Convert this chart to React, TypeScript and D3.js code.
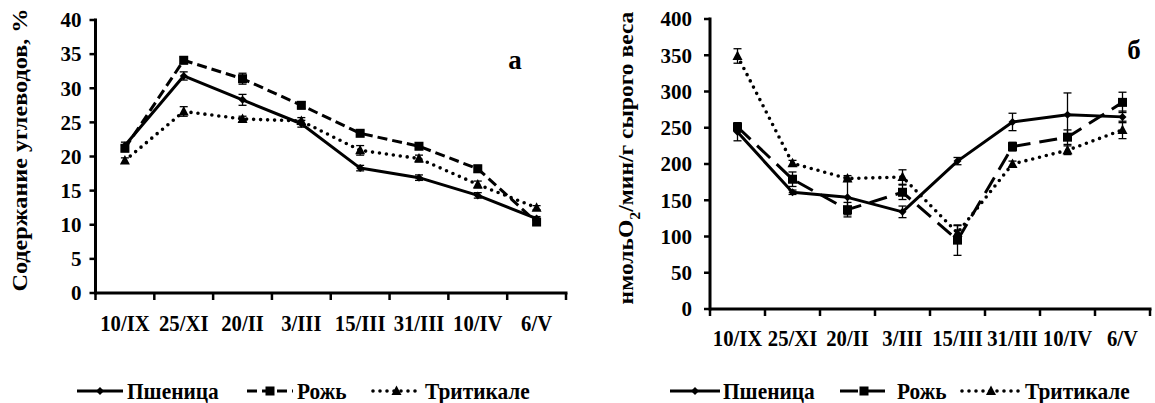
import React from 'react';
import * as d3 from 'd3';

const dates = ['10/IX', '25/XI', '20/II', '3/III', '15/III', '31/III', '10/IV', '6/V'];
const seriesNames = ['Пшеница', 'Рожь', 'Тритикале'];

// Panel а: carbohydrate content, %
const carbWheat = [21.6, 31.8, 28.3, 24.8, 18.3, 16.9, 14.3, 10.9];
const carbWheatErr = [0.5, 0.6, 0.8, 0.5, 0.4, 0.4, 0.4, 0.3];
const carbRye = [21.2, 34.1, 31.4, 27.5, 23.4, 21.5, 18.2, 10.4];
const carbRyeErr = [0.4, 0.5, 0.8, 0.5, 0.4, 0.4, 0.5, 0.4];
const carbTrit = [19.4, 26.6, 25.5, 25.2, 20.9, 19.7, 15.9, 12.5];
const carbTritErr = [0.4, 0.7, 0.4, 0.5, 0.7, 0.5, 0.5, 0.3];
const carbTicks = [0, 5, 10, 15, 20, 25, 30, 35, 40];

// Panel б: respiration, nmol O2/min/g fresh weight
const respWheat = [244, 161, 154, 134, 204, 258, 268, 265];
const respWheatErr = [12, 3, 24, 8, 5, 12, 30, 8];
const respRye = [251, 179, 137, 161, 95, 224, 237, 285];
const respRyeErr = [6, 10, 10, 10, 21, 6, 10, 14];
const respTrit = [349, 201, 180, 182, 105, 200, 219, 247];
const respTritErr = [10, 4, 4, 10, 10, 4, 6, 12];
const respTicks = [0, 50, 100, 150, 200, 250, 300, 350, 400];

const FONT = '"Liberation Serif", "Times New Roman", serif';

type Series = { values: number[]; errs: number[]; dash: string; marker: string; cap: 'butt' | 'round' };

function Marker({ kind, x, y }: { kind: string; x: number; y: number }) {
  if (kind === 'diamond') {
    const s = 4;
    return <path d={`M${x},${y - s}L${x + s},${y}L${x},${y + s}L${x - s},${y}Z`} fill="#000" />;
  }
  if (kind === 'square') {
    return <rect x={x - 4.5} y={y - 4.5} width={9} height={9} fill="#000" />;
  }
  return <path d={`M${x},${y - 5.5}L${x + 5},${y + 4}L${x - 5},${y + 4}Z`} fill="#000" />;
}

function Panel(props: {
  x0: number; x1: number; yTop: number; yBottom: number; ticks: number[];
  series: Series[]; yLabel: React.ReactNode; yLabelX: number; yLabelY: number; yLabelStretch: number;
  letter: string; letterX: number; letterY: number; tickLabelGap: number;
  legend: { lineX0: number; lineX1: number; textX: number }[]; legendY: number; xLabelY: number;
}) {
  const x = d3.scaleBand<string>().domain(dates).range([props.x0, props.x1]).padding(0);
  const y = d3.scaleLinear().domain([0, props.ticks[props.ticks.length - 1]]).range([props.yBottom, props.yTop]);
  const cx = (d: string) => (x(d) as number) + x.bandwidth() / 2;
  const boundaries = dates.map((d) => x(d) as number).concat([props.x1]);

  return (
    <g>
      {/* y axis */}
      <line x1={props.x0} x2={props.x0} y1={y(props.ticks[props.ticks.length - 1]) - 1.5} y2={props.yBottom + 1.5} stroke="#000" strokeWidth={3} />
      {props.ticks.map((t) => (
        <g key={t}>
          <line x1={props.x0 - 6} x2={props.x0} y1={y(t)} y2={y(t)} stroke="#000" strokeWidth={2.5} />
          <text x={props.x0 - props.tickLabelGap} y={y(t)} dy="0.35em" textAnchor="end" fontFamily={FONT} fontWeight="bold" fontSize={21}>{t}</text>
        </g>
      ))}
      {/* x axis */}
      <line x1={props.x0} x2={props.x1 + 1.5} y1={props.yBottom} y2={props.yBottom} stroke="#000" strokeWidth={3} />
      {boundaries.map((b, i) => (
        <line key={i} x1={b} x2={b} y1={props.yBottom} y2={props.yBottom + 7} stroke="#000" strokeWidth={2.5} />
      ))}
      {dates.map((d) => (
        <text key={d} transform={`translate(${cx(d)},${props.xLabelY}) scale(0.9,1)`} dy="0.35em" textAnchor="middle" fontFamily={FONT} fontWeight="bold" fontSize={23}>{d}</text>
      ))}
      {/* y label */}
      <text transform={`translate(${props.yLabelX},${props.yLabelY}) rotate(-90) scale(${props.yLabelStretch},1)`} textAnchor="middle" dy="0.35em" fontFamily={FONT} fontWeight="bold" fontSize={22}>{props.yLabel}</text>
      {/* panel letter */}
      <text x={props.letterX} y={props.letterY} dy="0.35em" textAnchor="middle" fontFamily={FONT} fontWeight="bold" fontSize={27}>{props.letter}</text>
      {/* series */}
      {props.series.map((s, si) => {
        const line = d3.line<number>().x((_, i) => cx(dates[i])).y((v) => y(v));
        return (
          <g key={si}>
            {s.values.map((v, i) => (
              <g key={i}>
                <line x1={cx(dates[i])} x2={cx(dates[i])} y1={y(v - s.errs[i])} y2={y(v + s.errs[i])} stroke="#000" strokeWidth={1.3} />
                <line x1={cx(dates[i]) - 4} x2={cx(dates[i]) + 4} y1={y(v - s.errs[i])} y2={y(v - s.errs[i])} stroke="#000" strokeWidth={1.3} />
                <line x1={cx(dates[i]) - 4} x2={cx(dates[i]) + 4} y1={y(v + s.errs[i])} y2={y(v + s.errs[i])} stroke="#000" strokeWidth={1.3} />
              </g>
            ))}
            <path d={line(s.values) || ''} fill="none" stroke="#000" strokeWidth={s.cap === 'round' ? 3.6 : 3} strokeDasharray={s.dash} strokeLinecap={s.cap} strokeLinejoin="round" />
            {s.values.map((v, i) => (
              <Marker key={i} kind={s.marker} x={cx(dates[i])} y={y(v)} />
            ))}
          </g>
        );
      })}
      {/* legend */}
      {props.series.map((s, si) => {
        const L = props.legend[si];
        return (
          <g key={si}>
            <line x1={L.lineX0} x2={L.lineX1} y1={props.legendY} y2={props.legendY} stroke="#000" strokeWidth={s.cap === 'round' ? 3.6 : 3} strokeDasharray={s.dash} strokeLinecap={s.cap} />
            <Marker kind={s.marker} x={(L.lineX0 + L.lineX1) / 2} y={props.legendY} />
            <text transform={`translate(${L.textX},${props.legendY}) scale(0.93,1)`} dy="0.35em" fontFamily={FONT} fontWeight="bold" fontSize={23}>{seriesNames[si]}</text>
          </g>
        );
      })}
    </g>
  );
}

export default function App() {
  const left: Series[] = [
    { values: carbWheat, errs: carbWheatErr, dash: '', marker: 'diamond', cap: 'butt' },
    { values: carbRye, errs: carbRyeErr, dash: '10,5', marker: 'square', cap: 'butt' },
    { values: carbTrit, errs: carbTritErr, dash: '0,7', marker: 'triangle', cap: 'round' },
  ];
  const right: Series[] = [
    { values: respWheat, errs: respWheatErr, dash: '', marker: 'diamond', cap: 'butt' },
    { values: respRye, errs: respRyeErr, dash: '18,9', marker: 'square', cap: 'butt' },
    { values: respTrit, errs: respTritErr, dash: '0,7', marker: 'triangle', cap: 'round' },
  ];
  return (
    <svg width={1155} height={403} style={{ position: 'absolute', left: 0, top: 0, background: '#fff' }}>
      <Panel
        x0={95.5} x1={566} yTop={20} yBottom={293} ticks={carbTicks} series={left}
        yLabel="Содержание углеводов, %" yLabelX={19} yLabelY={150} yLabelStretch={1.1}
        letter="а" letterX={515} letterY={60} tickLabelGap={14}
        legend={[{ lineX0: 77, lineX1: 123, textX: 127 }, { lineX0: 247, lineX1: 293, textX: 297 }, { lineX0: 373, lineX1: 420, textX: 425 }]}
        legendY={391} xLabelY={323}
      />
      <Panel
        x0={710} x1={1150} yTop={19} yBottom={309} ticks={respTicks} series={right}
        yLabel={<>нмольO<tspan fontSize={15} dy={7}>2</tspan><tspan dy={-7}>/мин/г сырого веса</tspan></>}
        yLabelX={625} yLabelY={158} yLabelStretch={1.07}
        letter="б" letterX={1134} letterY={50} tickLabelGap={18}
        legend={[{ lineX0: 670, lineX1: 720, textX: 723 }, { lineX0: 840, lineX1: 888, textX: 897 }, { lineX0: 962, lineX1: 1020, textX: 1025 }]}
        legendY={391} xLabelY={338}
      />
    </svg>
  );
}
